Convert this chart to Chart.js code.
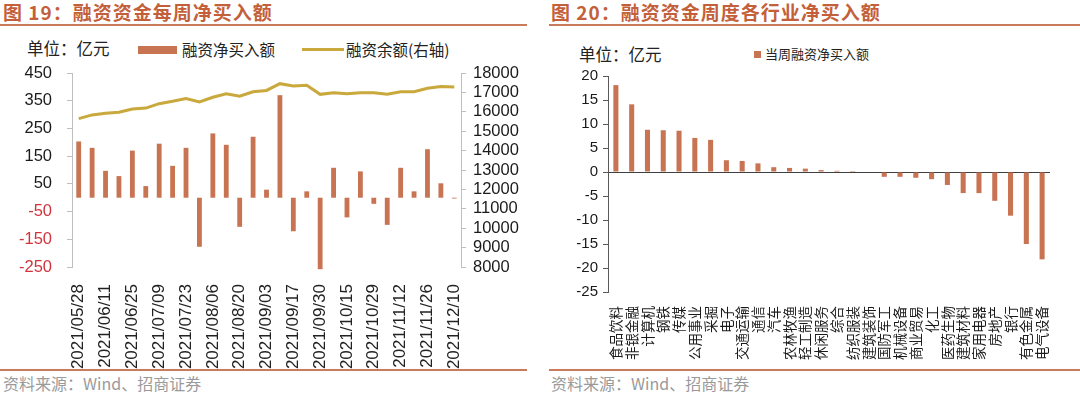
<!DOCTYPE html>
<html>
<head>
<meta charset="utf-8">
<script src="https://cdn.jsdelivr.net/npm/chart.js@4.4.0/dist/chart.umd.min.js"></script>
<style>
  body { margin: 0; background: #fff; width: 1080px; height: 394px; position: relative; overflow: hidden; }
  .abs { position: absolute; white-space: nowrap; }
  .title { font-family: 'Noto Sans CJK SC', sans-serif; font-weight: bold; font-size: 19px; color: #C3603A; letter-spacing: 1px; line-height: 24px; }
  .rule { position: absolute; height: 2px; background: #C97B5C; }
  .src { font-family: 'Noto Sans CJK SC', sans-serif; font-size: 16px; color: #9a9a9a; line-height: 20px; }
  .unit { font-family: 'Noto Sans CJK SC', sans-serif; font-size: 16.5px; color: #222; line-height: 20px; }
  .leg { font-family: 'Noto Sans CJK SC', sans-serif; font-size: 15.5px; color: #222; line-height: 20px; }
  canvas { position: absolute; top: 0; }
</style>
</head>
<body>
<div class="abs title" style="left:3px; top:0px;">图 19：融资资金每周净买入额</div>
<div class="rule" style="left:0; top:24px; width:527px;"></div>
<div class="abs title" style="left:551px; top:0px;">图 20：融资资金周度各行业净买入额</div>
<div class="rule" style="left:549px; top:24px; width:531px;"></div>

<div class="abs unit" style="left:27px; top:38px;">单位：亿元</div>
<div class="abs" style="left:138px; top:46px; width:39px; height:8px; background:#C87453;"></div>
<div class="abs leg" style="left:182px; top:39px;">融资净买入额</div>
<div class="abs" style="left:302px; top:48px; width:42px; height:3px; background:#C9A83C;"></div>
<div class="abs leg" style="left:346px; top:39px;">融资余额(右轴)</div>

<div class="abs unit" style="left:579px; top:44px;">单位：亿元</div>
<div class="abs" style="left:754px; top:51px; width:7px; height:7px; background:#C87453;"></div>
<div class="abs leg" style="left:765px; top:44px; font-size:13px;">当周融资净买入额</div>

<div class="rule" style="left:0; top:369px; width:527px; height:1.5px;"></div>
<div class="rule" style="left:549px; top:369px; width:531px; height:1.5px;"></div>
<div class="abs src" style="left:3px; top:373px;">资料来源：Wind、招商证券</div>
<div class="abs src" style="left:551px; top:373px;">资料来源：Wind、招商证券</div>

<canvas id="c1" width="540" height="394" style="left:0;"></canvas>
<canvas id="c2" width="540" height="394" style="left:540px;"></canvas>

<script>
const NUM = "'Liberation Sans', Arial, sans-serif";
const CJK = "'Noto Sans CJK SC', sans-serif";
const BAR = '#C87453';
const GOLD = '#C9A83C';

// 图19
const weeks = ['2021/05/28','2021/06/04','2021/06/11','2021/06/18','2021/06/25','2021/07/02','2021/07/09',
  '2021/07/16','2021/07/23','2021/07/30','2021/08/06','2021/08/13','2021/08/20','2021/08/27','2021/09/03',
  '2021/09/10','2021/09/17','2021/09/24','2021/09/30','2021/10/08','2021/10/15','2021/10/22','2021/10/29',
  '2021/11/05','2021/11/12','2021/11/19','2021/11/26','2021/12/03','2021/12/10'];
const netBuy = [203, 180, 97, 78, 170, 42, 195, 115, 180, -177, 232, 191, -105, 220, 29,
  370, -121, 23, -258, 108, -71, 95, -22, -98, 108, 23, 175, 52, -3];
const balance = [15650, 15840, 15930, 15980, 16140, 16190, 16420, 16540, 16680, 16510, 16750, 16930, 16800, 17035, 17100,
  17450, 17330, 17370, 16900, 16980, 16930, 16980, 16980, 16900, 17035, 17035, 17210, 17300, 17280];
const leftTicks = {min: -250, max: 450, step: 100};
const rightTicks = {min: 8000, max: 18000, step: 1000};

// 图20
const industries = ['食品饮料','非银金融','计算机','钢铁','传媒','公用事业','采掘','电子','交通运输','通信',
  '汽车','农林牧渔','轻工制造','休闲服务','综合','纺织服装','建筑装饰','国防军工','机械设备','商业贸易',
  '化工','医药生物','建筑材料','家用电器','房地产','银行','有色金属','电气设备'];
const weekNetBuy = [18.1, 14.1, 8.8, 8.7, 8.6, 7.1, 6.7, 2.45, 2.3, 1.8, 1.0, 0.85, 0.7, 0.4, 0.25, 0.2,
  -0.1, -1.0, -1.0, -1.2, -1.5, -2.7, -4.4, -4.4, -6.0, -9.1, -15.0, -18.2];
const indTicks = {min: -25, max: 20, step: 5};

new Chart(document.getElementById('c1'), {
  data: {
    labels: weeks,
    datasets: [
      {type: 'line', label: '融资余额(右轴)', data: balance, yAxisID: 'y1', borderColor: GOLD,
        borderWidth: 3, pointRadius: 0, tension: 0, order: 0},
      {type: 'bar', label: '融资净买入额', data: netBuy, yAxisID: 'y', backgroundColor: BAR,
        barPercentage: 0.36, categoryPercentage: 1, clip: false, order: 1}
    ]
  },
  options: {
    responsive: false,
    animation: false,
    layout: {padding: {top: 73, left: 0, right: 0, bottom: 0}},
    plugins: {legend: {display: false}, tooltip: {enabled: false}},
    scales: {
      x: {
        grid: {display: false},
        border: {display: false},
        ticks: {
          autoSkip: false, maxRotation: 90, minRotation: 90, padding: 9,
          color: '#222', font: {family: NUM, size: 17},
          callback: function(value, index) { return index % 2 === 0 ? weeks[index] : ''; }
        },
        afterFit: function(scale) { scale.height = 127; }
      },
      y: {
        position: 'left',
        min: leftTicks.min, max: leftTicks.max,
        grid: {
          color: function(ctx) { return ctx.tick && ctx.tick.value === 0 ? '#D9D9D9' : 'rgba(0,0,0,0)'; },
          tickColor: '#BFBFBF', tickLength: 5
        },
        border: {color: '#BFBFBF'},
        ticks: {
          stepSize: leftTicks.step, padding: 15, autoSkip: false,
          color: function(ctx) { return ctx.tick.value < 0 ? '#D0343C' : '#1a1a1a'; },
          font: {family: NUM, size: 16.5}
        },
        afterFit: function(scale) { scale.width = 72; }
      },
      y1: {
        position: 'right',
        min: rightTicks.min, max: rightTicks.max,
        grid: {drawOnChartArea: false, tickColor: '#BFBFBF', tickLength: 5},
        border: {color: '#BFBFBF'},
        ticks: {stepSize: rightTicks.step, padding: 7, autoSkip: false, color: '#1a1a1a',
          font: {family: NUM, size: 16.5},
          callback: function(value) { return String(value); }},
        afterFit: function(scale) { scale.width = 79; }
      }
    }
  }
});

new Chart(document.getElementById('c2'), {
  type: 'bar',
  data: {
    labels: industries,
    datasets: [{label: '当周融资净买入额', data: weekNetBuy, backgroundColor: BAR,
      barPercentage: 0.32, categoryPercentage: 1}]
  },
  options: {
    responsive: false,
    animation: false,
    layout: {padding: {top: 76, left: 0, right: 30, bottom: 0}},
    plugins: {legend: {display: false}, tooltip: {enabled: false}},
    scales: {
      x: {
        grid: {display: false},
        border: {display: false},
        ticks: {autoSkip: false, maxRotation: 90, minRotation: 90, padding: 6,
          color: '#1a1a1a', font: {family: CJK, size: 13.5}},
        afterFit: function(scale) { scale.height = 102; }
      },
      y: {
        min: indTicks.min, max: indTicks.max,
        grid: {
          color: function(ctx) { return ctx.tick && ctx.tick.value === 0 ? '#404040' : 'rgba(0,0,0,0)'; },
          tickColor: '#595959', tickLength: 5
        },
        border: {color: '#595959'},
        ticks: {stepSize: indTicks.step, padding: 5, autoSkip: false, color: '#1a1a1a', font: {family: NUM, size: 15}},
        afterFit: function(scale) { scale.width = 68; }
      }
    }
  }
});
</script>
</body>
</html>
